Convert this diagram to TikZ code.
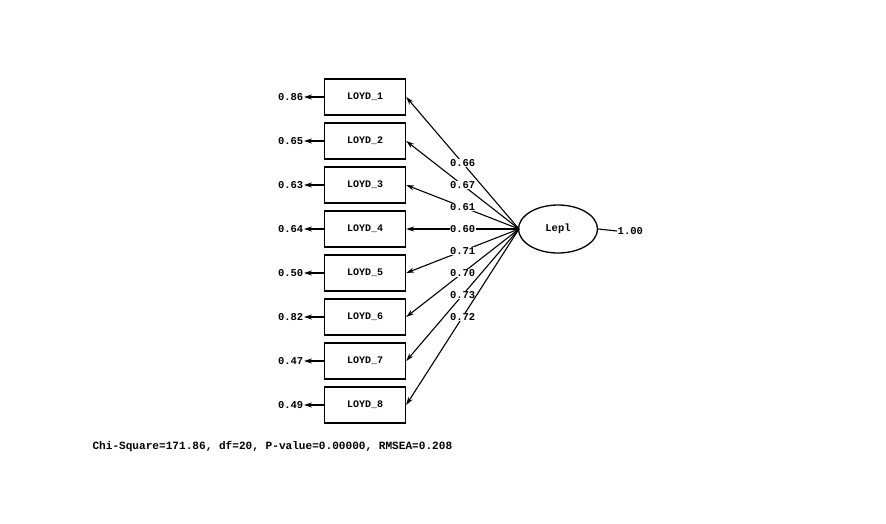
\documentclass[tikz,border=0pt]{standalone}
\usepackage{fontspec}
\setmainfont{Liberation Mono}
\usetikzlibrary{arrows.meta,shapes.geometric}
\begin{document}
\begin{tikzpicture}[x=1pt,y=-1pt,
  obs/.style={draw,line width=1.4pt,minimum width=81pt,minimum height=36pt,inner sep=0pt,font=\fontsize{10}{12}\selectfont\bfseries},
  lat/.style={draw,ellipse,line width=1.3pt,minimum width=79pt,minimum height=48pt,inner sep=0pt,font=\fontsize{10.5}{12}\selectfont\bfseries},
  val/.style={font=\fontsize{10.5}{12}\selectfont\bfseries,inner sep=0.5pt},
  load/.style={font=\fontsize{10.5}{12}\selectfont\bfseries,fill=white,inner sep=0.5pt},
  arr/.style={-{Stealth[length=8pt,width=5pt]},line width=1.1pt}
]
\useasboundingbox (0,0) rectangle (886,524);
\fill[white] (0,0) rectangle (886,524);
\node[lat] (L) at (558,229) {Lepl};
\coordinate (Lw) at (519,229);
\node[val,anchor=west] (v) at (617,231) {1.00};
\draw[line width=1.1pt] (L.east) -- (v.west);
\foreach \i/\y/\e/\l in {1/97/0.86/0.66,2/141/0.65/0.67,3/185/0.63/0.61,4/229/0.64/0.60,5/273/0.50/0.71,6/317/0.82/0.70,7/361/0.47/0.73,8/405/0.49/0.72}{
  \node[obs] (b\i) at (365,\y) {LOYD\_\i};
  \node[val,anchor=east] (e\i) at (304,\y) {\e};
  \draw[arr] (b\i.west) -- (e\i.east);
  \draw[arr] (Lw) -- node[load] {\l} (b\i.east);
}
\node[font=\fontsize{11.1}{13}\selectfont\bfseries,anchor=west] (chi) at (89,447) {Chi-Square=171.86, df=20, P-value=0.00000, RMSEA=0.208};
\end{tikzpicture}
\end{document}
